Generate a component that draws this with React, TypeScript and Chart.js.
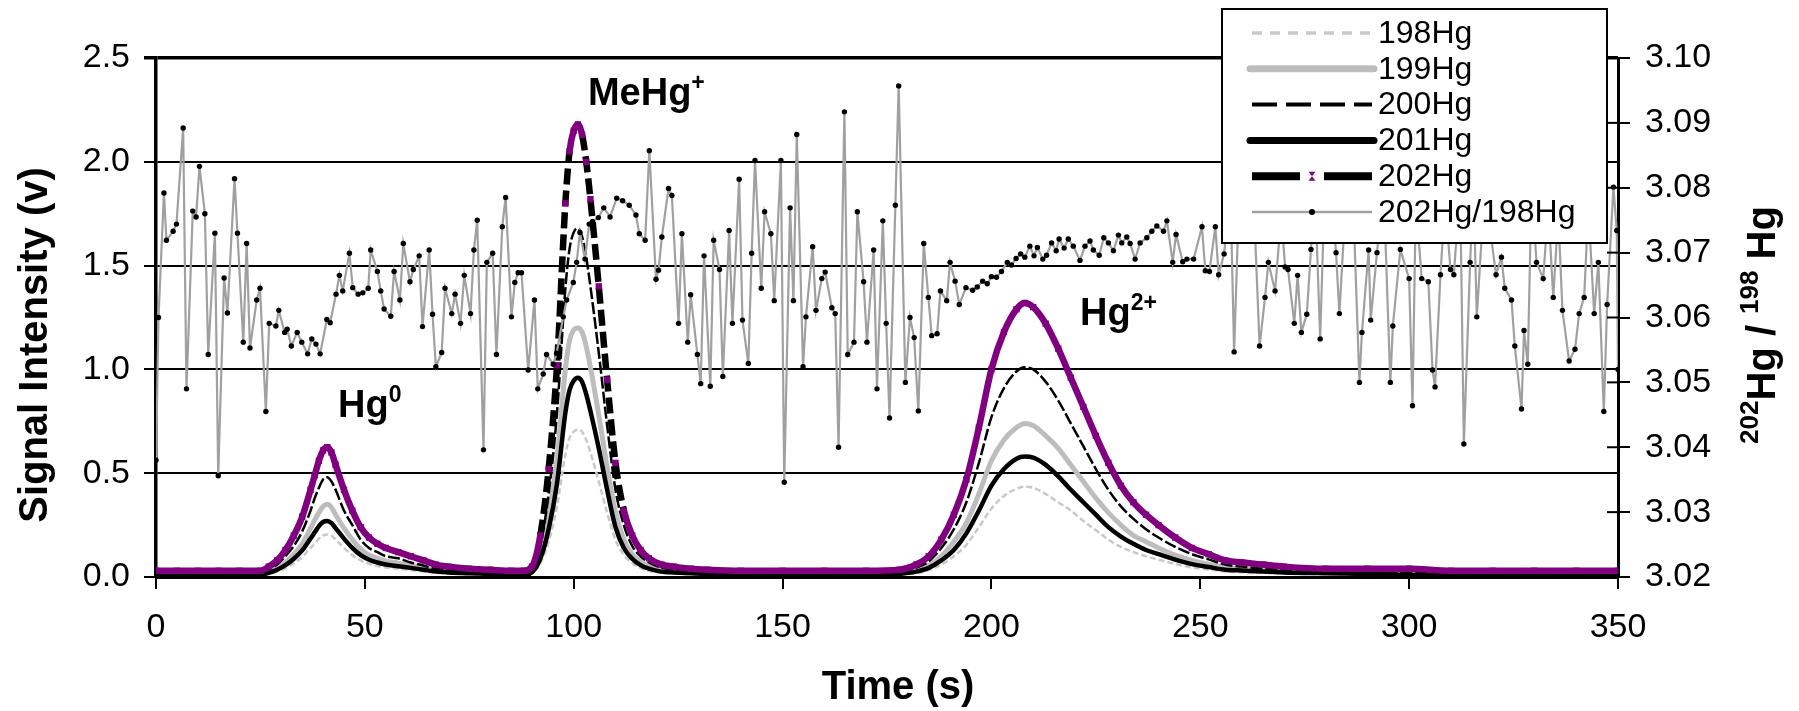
import React, { useEffect, useRef } from "react";
import { Chart, registerables } from "chart.js";

Chart.register(...registerables);

const FAMILY = "'Liberation Sans', Arial, Helvetica, sans-serif";
const PURPLE = "#800080";
const GRAY_198 = "#c9c9c9";
const GRAY_199 = "#bdbdbd";
const GRAY_RATIO = "#a0a0a0";

// Time axis samples (s) for the isotope traces
const timeS = [
  0, 5, 10, 15, 20, 25, 27, 29, 31, 33, 35, 37, 38, 39, 40, 41, 42, 43, 45, 47, 49, 51, 53, 55,
  58, 61, 64, 67, 70, 75, 80, 85, 88, 90, 92, 94, 96, 98, 99, 100, 101, 102, 103, 104, 106, 108,
  110, 112, 114, 116, 118, 121, 124, 128, 132, 140, 150, 160, 170, 178, 182, 185, 188, 191, 194,
  197, 200, 203, 206, 208, 210, 213, 216, 219, 222, 225, 228, 231, 234, 237, 240, 244, 248, 252,
  256, 260, 265, 270, 280, 290, 300, 310, 320, 330, 340, 350,
];

const hg202 = [
  0.03, 0.03, 0.03, 0.03, 0.03, 0.03,
  0.05, 0.08, 0.13, 0.2, 0.29, 0.42,
  0.49, 0.56, 0.61, 0.625, 0.6, 0.54,
  0.42, 0.32, 0.24, 0.19, 0.16, 0.14,
  0.12, 0.1, 0.08, 0.06, 0.05,
  0.04, 0.035, 0.03, 0.03,
  0.05, 0.2, 0.52, 1.02, 1.8,
  2.05, 2.15, 2.18, 2.13, 2.0, 1.82,
  1.4, 0.95, 0.55, 0.32, 0.2, 0.13, 0.09,
  0.06, 0.05, 0.04, 0.035,
  0.03, 0.03, 0.03, 0.03,
  0.035, 0.06, 0.1, 0.18, 0.3, 0.47, 0.72,
  1.0, 1.18, 1.29, 1.32, 1.3,
  1.22, 1.1, 0.96, 0.82, 0.68, 0.55, 0.44, 0.36, 0.3, 0.25,
  0.19, 0.14, 0.11, 0.08, 0.07, 0.06, 0.05,
  0.04, 0.04, 0.04, 0.03, 0.03, 0.03, 0.03, 0.03,
];

const hg200 = [
  0.02, 0.02, 0.02, 0.02, 0.02, 0.02,
  0.035, 0.06, 0.1, 0.15, 0.22, 0.32,
  0.38, 0.43, 0.47, 0.48, 0.46, 0.42,
  0.32, 0.25, 0.18, 0.14, 0.12, 0.1,
  0.09, 0.07, 0.055, 0.04, 0.035,
  0.03, 0.025, 0.02, 0.02,
  0.035, 0.15, 0.4, 0.79, 1.39,
  1.58, 1.66, 1.68, 1.64, 1.54, 1.4,
  1.08, 0.73, 0.42, 0.25, 0.15, 0.1, 0.07,
  0.045, 0.035, 0.03, 0.025,
  0.02, 0.02, 0.02, 0.02,
  0.025, 0.045, 0.075, 0.14, 0.23, 0.36, 0.55,
  0.77, 0.91, 0.99, 1.01, 1.0,
  0.94, 0.85, 0.74, 0.63, 0.52, 0.42, 0.34, 0.28, 0.23, 0.19,
  0.145, 0.11, 0.085, 0.06, 0.05, 0.04, 0.035,
  0.03, 0.025, 0.02, 0.02, 0.02, 0.02, 0.02, 0.02,
];

const hg199 = [
  0.015, 0.015, 0.015, 0.015, 0.015, 0.015,
  0.025, 0.045, 0.07, 0.11, 0.16, 0.235,
  0.275, 0.31, 0.34, 0.35, 0.335, 0.3,
  0.235, 0.18, 0.135, 0.105, 0.09, 0.078,
  0.067, 0.055, 0.045, 0.035, 0.028,
  0.022, 0.02, 0.015, 0.015,
  0.028, 0.11, 0.29, 0.57, 1.0,
  1.14, 1.19, 1.2, 1.18, 1.11, 1.01,
  0.78, 0.53, 0.31, 0.18, 0.11, 0.073, 0.05,
  0.034, 0.028, 0.022, 0.02,
  0.015, 0.015, 0.015, 0.015,
  0.02, 0.034, 0.056, 0.1, 0.17, 0.26, 0.4,
  0.56, 0.66, 0.72, 0.74, 0.73,
  0.68, 0.62, 0.54, 0.46, 0.38, 0.31, 0.25, 0.2, 0.17, 0.14,
  0.105, 0.08, 0.062, 0.045, 0.039, 0.034, 0.028,
  0.022, 0.02, 0.015, 0.015, 0.015, 0.015, 0.015, 0.015,
];

const hg201 = [
  0.01, 0.01, 0.01, 0.01, 0.01, 0.01,
  0.02, 0.035, 0.057, 0.088, 0.128, 0.185,
  0.215, 0.245, 0.265, 0.27, 0.26, 0.235,
  0.185, 0.14, 0.105, 0.083, 0.07, 0.06,
  0.052, 0.044, 0.035, 0.026, 0.022,
  0.018, 0.015, 0.01, 0.01,
  0.022, 0.088, 0.23, 0.45, 0.79,
  0.9, 0.945, 0.96, 0.94, 0.88, 0.8,
  0.62, 0.42, 0.24, 0.14, 0.088, 0.057, 0.04,
  0.026, 0.022, 0.018, 0.015,
  0.01, 0.01, 0.01, 0.01,
  0.015, 0.026, 0.044, 0.08, 0.13, 0.21, 0.32,
  0.44, 0.52, 0.57, 0.58, 0.575,
  0.54, 0.485, 0.42, 0.36, 0.3, 0.24, 0.195, 0.16, 0.13, 0.11,
  0.084, 0.062, 0.048, 0.035, 0.031, 0.026, 0.022,
  0.018, 0.015, 0.01, 0.01, 0.01, 0.01, 0.01, 0.01,
];

const hg198 = [
  0.01, 0.01, 0.01, 0.01, 0.01, 0.01,
  0.017, 0.027, 0.043, 0.066, 0.096, 0.14,
  0.16, 0.185, 0.2, 0.205, 0.2, 0.18,
  0.14, 0.105, 0.08, 0.063, 0.053, 0.046,
  0.04, 0.033, 0.027, 0.02, 0.017,
  0.013, 0.012, 0.01, 0.01,
  0.017, 0.066, 0.17, 0.34, 0.59,
  0.67, 0.7, 0.71, 0.7, 0.66, 0.6,
  0.46, 0.31, 0.18, 0.106, 0.066, 0.043, 0.03,
  0.02, 0.017, 0.013, 0.012,
  0.01, 0.01, 0.01, 0.01,
  0.012, 0.02, 0.033, 0.06, 0.1, 0.155, 0.24,
  0.33, 0.39, 0.425, 0.435, 0.43,
  0.4, 0.36, 0.32, 0.27, 0.225, 0.18, 0.145, 0.12, 0.1, 0.083,
  0.063, 0.046, 0.036, 0.027, 0.023, 0.02, 0.017,
  0.013, 0.012, 0.01, 0.01, 0.01, 0.01, 0.01, 0.01,
];

// 202Hg/198Hg ratio samples: [time (s), ratio]
const ratioSamples: [number, number][] = [
  [0, 3.038], [0.6, 3.06], [1.9, 3.0792], [2.5, 3.0719], [4.1, 3.0733], [4.9, 3.0744], [6.5, 3.0892],
  [7.3, 3.049], [8.8, 3.0764], [9.6, 3.0755], [10.4, 3.0833], [11.7, 3.076], [12.5, 3.0543], [14.1, 3.073],
  [14.9, 3.0356], [16.3, 3.0661], [17.1, 3.0607], [18.8, 3.0814], [19.5, 3.073], [20.9, 3.0562], [21.7, 3.0714],
  [22.5, 3.0553], [24.1, 3.0627], [24.9, 3.0645], [26.3, 3.0455], [27.1, 3.0591], [28.7, 3.0587], [29.4, 3.0611],
  [30.8, 3.0577], [31.4, 3.0582], [32.4, 3.0556], [33.8, 3.0577], [34.9, 3.0562], [36.3, 3.0544], [37.3, 3.0567],
  [38.3, 3.0559], [39.3, 3.0544], [40.9, 3.0597], [41.7, 3.0592], [43.1, 3.0636], [43.9, 3.0665], [44.7, 3.0641],
  [46.3, 3.0699], [47.1, 3.0646], [48.4, 3.0636], [49.5, 3.0638], [50.8, 3.0645], [51.4, 3.0704], [53.0, 3.0671],
  [53.8, 3.0641], [54.6, 3.0613], [56.2, 3.0602], [57.0, 3.0671], [58.4, 3.0627], [59.2, 3.0714], [60.8, 3.0655],
  [61.6, 3.0674], [63.0, 3.0695], [63.8, 3.0586], [65.4, 3.0704], [66.2, 3.0605], [67.0, 3.0524], [68.4, 3.0546],
  [69.2, 3.0645], [70.8, 3.0606], [71.6, 3.0636], [72.9, 3.0591], [73.8, 3.0665], [75.3, 3.0606], [76.1, 3.0704],
  [76.9, 3.075], [78.4, 3.0396], [79.2, 3.0685], [80.6, 3.0699], [81.5, 3.0543], [82.9, 3.074], [83.7, 3.0785],
  [85.1, 3.0601], [85.9, 3.0654], [86.7, 3.0669], [87.5, 3.0669], [89.1, 3.0519], [90.6, 3.0627], [91.4, 3.049],
  [92.7, 3.0513], [93.5, 3.0543], [95.1, 3.0528], [95.9, 3.0545], [97.5, 3.0601], [98.3, 3.0627], [99.9, 3.0654],
  [100.7, 3.0685], [101.5, 3.0731], [102.7, 3.069], [103.7, 3.0744], [104.5, 3.0748], [105.9, 3.0754], [107.2, 3.0769],
  [108.7, 3.0755], [110.3, 3.0784], [111.7, 3.078], [113.3, 3.0773], [114.9, 3.0758], [115.7, 3.0729], [117.1, 3.0719],
  [118.1, 3.0857], [119.7, 3.0659], [120.3, 3.0673], [121.1, 3.0724], [122.7, 3.0799], [123.5, 3.0788], [125.1, 3.0591],
  [125.9, 3.0729], [127.3, 3.0562], [128.0, 3.0635], [129.6, 3.0543], [130.4, 3.0498], [131.2, 3.0695], [132.7, 3.0494],
  [133.5, 3.0719], [134.9, 3.0674], [135.7, 3.0509], [137.2, 3.0734], [138.0, 3.0591], [139.6, 3.0813], [140.4, 3.0596],
  [141.8, 3.0529], [142.6, 3.0699], [143.4, 3.0842], [144.9, 3.0645], [145.7, 3.0763], [147.2, 3.0729], [148.0, 3.0626],
  [149.6, 3.0842], [150.4, 3.0346], [151.8, 3.0769], [152.6, 3.0626], [153.4, 3.0882], [154.9, 3.0524], [155.6, 3.0601],
  [157.2, 3.0709], [158.0, 3.0611], [159.4, 3.066], [160.2, 3.067], [161.8, 3.0615], [162.6, 3.0606], [163.4, 3.04],
  [164.8, 3.0917], [165.6, 3.0543], [167.1, 3.0562], [167.9, 3.0763], [169.4, 3.0655], [170.2, 3.0562], [171.8, 3.0704],
  [172.6, 3.049], [174.0, 3.0749], [174.8, 3.0591], [175.6, 3.0445], [177.0, 3.0773], [177.8, 3.0957], [179.4, 3.05],
  [180.5, 3.06], [181.5, 3.0569], [182.5, 3.0456], [183.8, 3.0714], [184.9, 3.0631], [185.7, 3.0572], [187.0, 3.0575],
  [187.8, 3.0641], [189.3, 3.0626], [190.1, 3.0685], [191.3, 3.0656], [192.3, 3.062], [193.9, 3.0646], [195.5, 3.0642],
  [196.6, 3.0647], [197.9, 3.0656], [199.0, 3.0652], [200.0, 3.0663], [201.2, 3.0662], [202.4, 3.0671], [203.8, 3.0685],
  [204.8, 3.0681], [205.9, 3.0691], [207.0, 3.0698], [208.0, 3.0693], [209.2, 3.071], [210.2, 3.0695], [211.0, 3.0708],
  [212.3, 3.069], [213.2, 3.0696], [214.4, 3.0715], [215.5, 3.0703], [216.2, 3.0721], [217.4, 3.0707], [218.4, 3.0721],
  [219.6, 3.071], [221.2, 3.0688], [222.4, 3.071], [223.6, 3.0718], [224.4, 3.0704], [225.8, 3.0696], [226.9, 3.0723],
  [228.0, 3.0715], [229.2, 3.0703], [230.4, 3.0727], [231.2, 3.0715], [232.4, 3.0724], [233.2, 3.0714], [234.4, 3.069],
  [235.6, 3.0715], [237.2, 3.0723], [238.4, 3.0733], [239.6, 3.0741], [241.2, 3.0733], [242.0, 3.0749], [243.4, 3.0685],
  [244.2, 3.0728], [245.8, 3.0686], [246.8, 3.069], [248.4, 3.069], [250.4, 3.074], [251.2, 3.0672], [252.2, 3.0671],
  [253.6, 3.074], [254.4, 3.0666], [255.7, 3.0698], [257.2, 3.08], [258.1, 3.0547], [259.3, 3.079], [260.8, 3.074],
  [262.6, 3.081], [264.2, 3.0556], [265.5, 3.0631], [266.3, 3.0685], [267.9, 3.0641], [269.4, 3.076], [270.3, 3.0678],
  [271.0, 3.0674], [272.5, 3.0591], [273.3, 3.0665], [274.2, 3.0577], [275.5, 3.0605], [276.5, 3.0705], [277.5, 3.079],
  [278.7, 3.0567], [279.7, 3.078], [281.1, 3.082], [282.5, 3.07], [283.3, 3.0606], [285.1, 3.081], [286.7, 3.076],
  [288.1, 3.05], [288.7, 3.0577], [290.3, 3.0704], [290.8, 3.0596], [292.3, 3.07], [293.9, 3.08], [295.5, 3.05],
  [296.1, 3.0587], [297.9, 3.0705], [300.0, 3.066], [300.8, 3.0464], [301.6, 3.078], [303.0, 3.066], [304.6, 3.0655],
  [305.6, 3.0519], [306.2, 3.0493], [307.5, 3.0666], [308.6, 3.078], [309.9, 3.0674], [310.7, 3.0666], [312.2, 3.08],
  [313.1, 3.0405], [314.6, 3.0685], [315.4, 3.08], [316.2, 3.0601], [317.8, 3.077], [319.3, 3.074], [320.8, 3.0666],
  [322.1, 3.0693], [322.9, 3.0645], [324.5, 3.0627], [325.3, 3.0556], [326.9, 3.0459], [327.5, 3.058], [328.4, 3.0528],
  [329.3, 3.08], [330.5, 3.0685], [332.1, 3.066], [333.3, 3.077], [334.5, 3.0631], [335.7, 3.076], [336.7, 3.0611],
  [338.3, 3.0533], [339.7, 3.0551], [340.7, 3.0606], [341.9, 3.0631], [342.9, 3.077], [344.3, 3.0606], [345.3, 3.0685],
  [346.6, 3.0455], [347.4, 3.062], [348.9, 3.0801], [349.7, 3.0734], [350, 3.052],
];

const xTickValues = [0, 50, 100, 150, 200, 250, 300, 350];
const leftTickValues = [0, 0.5, 1.0, 1.5, 2.0, 2.5];
const rightTickValues = [3.02, 3.03, 3.04, 3.05, 3.06, 3.07, 3.08, 3.09, 3.1];

const legendLabels = ["198Hg", "199Hg", "200Hg", "201Hg", "202Hg", "202Hg/198Hg"];

const peakLabels = [
  { base: "Hg", sup: "0", t: 43.6, v: 0.77 },
  { base: "MeHg", sup: "+", t: 103.4, v: 2.276 },
  { base: "Hg", sup: "2+", t: 221.2, v: 1.214 },
];

const yTitle = "Signal Intensity (v)";
const xTitle = "Time (s)";

const series = (vals: number[]) => timeS.map((t, i) => ({ x: t, y: vals[i] }));

const isSteep = (c: any) => {
  const dx = Math.abs(c.p1.x - c.p0.x) || 0.001;
  return Math.abs(c.p1.y - c.p0.y) / dx > 5.2;
};

function drawSup(ctx: CanvasRenderingContext2D, parts: { t: string; sup?: boolean }[], x: number, y: number, size: number, supSize: number, raise: number, align: "left" | "center") {
  const widths = parts.map((p) => {
    ctx.font = `bold ${p.sup ? supSize : size}px ${FAMILY}`;
    return ctx.measureText(p.t).width;
  });
  const total = widths.reduce((a, b) => a + b, 0);
  let cx = align === "center" ? x - total / 2 : x;
  ctx.textAlign = "left";
  ctx.textBaseline = "alphabetic";
  parts.forEach((p, i) => {
    ctx.font = `bold ${p.sup ? supSize : size}px ${FAMILY}`;
    ctx.fillText(p.t, cx, p.sup ? y - raise : y);
    cx += widths[i];
  });
}

const overlayPlugin = {
  id: "overlay",
  afterDatasetsDraw(chart: any) {
    const ctx: CanvasRenderingContext2D = chart.ctx;
    const xs = chart.scales.x;
    const ys = chart.scales.y;
    const y1 = chart.scales.y1;
    ctx.save();
    ctx.fillStyle = "#000";

    // inner tick marks on the right axis
    ctx.strokeStyle = "#000";
    ctx.lineWidth = 2;
    rightTickValues.forEach((v) => {
      const py = y1.getPixelForValue(v);
      ctx.beginPath();
      ctx.moveTo(y1.left - 11, py);
      ctx.lineTo(y1.left, py);
      ctx.stroke();
    });

    // peak annotations
    peakLabels.forEach((p) => {
      drawSup(ctx, [{ t: p.base }, { t: p.sup, sup: true }], xs.getPixelForValue(p.t), ys.getPixelForValue(p.v), 38, 23, 15, "left");
    });

    // axis titles
    ctx.save();
    ctx.translate(47, 345);
    ctx.rotate(-Math.PI / 2);
    ctx.font = `bold 40px ${FAMILY}`;
    ctx.textAlign = "center";
    ctx.textBaseline = "alphabetic";
    ctx.fillText(yTitle, 0, 0);
    ctx.restore();

    ctx.font = `bold 40px ${FAMILY}`;
    ctx.textAlign = "center";
    ctx.textBaseline = "alphabetic";
    ctx.fillText(xTitle, 898, 699);

    ctx.save();
    ctx.translate(1775, 325);
    ctx.rotate(-Math.PI / 2);
    drawSup(ctx, [{ t: "202", sup: true }, { t: "Hg / " }, { t: "198", sup: true }, { t: " Hg" }], 0, 0, 40, 26, 17, "center");
    ctx.restore();

    // legend
    const L = 1222, T = 9, W = 385, H = 234;
    ctx.fillStyle = "#fff";
    ctx.fillRect(L, T, W, H);
    ctx.strokeStyle = "#000";
    ctx.lineWidth = 2;
    ctx.strokeRect(L, T, W, H);
    const x1 = 1252, x2 = 1372, xm = 1312;
    const rowY = (i: number) => 33 + i * 35.8;
    const seg = (y: number, color: string, width: number, dash: number[], cap: CanvasLineCap, a = x1, b = x2) => {
      ctx.beginPath();
      ctx.strokeStyle = color;
      ctx.lineWidth = width;
      ctx.setLineDash(dash);
      ctx.lineCap = cap;
      ctx.moveTo(a, y);
      ctx.lineTo(b, y);
      ctx.stroke();
      ctx.setLineDash([]);
      ctx.lineCap = "butt";
    };
    seg(rowY(0), GRAY_198, 3.5, [10, 8], "butt");
    seg(rowY(1), GRAY_199, 7, [], "round", x1 - 2, x2 + 2);
    seg(rowY(2), "#000", 4, [25, 9], "butt");
    seg(rowY(3), "#000", 7, [], "round", x1 - 2, x2 + 2);
    seg(rowY(4), "#000", 8, [], "butt", x1, 1300);
    seg(rowY(4), "#000", 8, [], "butt", 1324, x2);
    ctx.fillStyle = PURPLE;
    const my = rowY(4);
    ctx.beginPath();
    ctx.moveTo(xm - 3.5, my - 4.5);
    ctx.lineTo(xm + 3.5, my - 4.5);
    ctx.lineTo(xm, my);
    ctx.closePath();
    ctx.moveTo(xm - 3.5, my + 4.5);
    ctx.lineTo(xm + 3.5, my + 4.5);
    ctx.lineTo(xm, my);
    ctx.closePath();
    ctx.fill();
    seg(rowY(5), GRAY_RATIO, 2.5, [], "butt");
    ctx.fillStyle = "#000";
    ctx.beginPath();
    ctx.arc(xm, rowY(5), 3, 0, Math.PI * 2);
    ctx.fill();

    ctx.font = `32px ${FAMILY}`;
    ctx.textAlign = "left";
    ctx.textBaseline = "middle";
    legendLabels.forEach((lab, i) => ctx.fillText(lab, 1378, rowY(i) + 1));
    ctx.restore();
  },
};

export default function App() {
  const ref = useRef<HTMLCanvasElement | null>(null);

  useEffect(() => {
    const canvas = ref.current;
    if (!canvas) return;
    const tickFont = { family: FAMILY, size: 34 };
    const chart = new Chart(canvas, {
      type: "line",
      data: {
        datasets: [
          {
            label: "198Hg",
            data: series(hg198),
            borderColor: GRAY_198,
            borderWidth: 2.5,
            borderDash: [6, 3],
            pointRadius: 0,
            cubicInterpolationMode: "monotone",
            yAxisID: "y",
            order: 6,
          },
          {
            label: "199Hg",
            data: series(hg199),
            borderColor: GRAY_199,
            borderWidth: 5,
            pointRadius: 0,
            cubicInterpolationMode: "monotone",
            yAxisID: "y",
            order: 5,
          },
          {
            label: "200Hg",
            data: series(hg200),
            borderColor: "#000",
            borderWidth: 2.5,
            borderDash: [12, 3],
            pointRadius: 0,
            cubicInterpolationMode: "monotone",
            yAxisID: "y",
            order: 4,
          },
          {
            label: "201Hg",
            data: series(hg201),
            borderColor: "#000",
            borderWidth: 4.5,
            pointRadius: 0,
            cubicInterpolationMode: "monotone",
            yAxisID: "y",
            order: 3,
          },
          {
            label: "202Hg",
            data: series(hg202),
            borderColor: PURPLE,
            borderWidth: 6.5,
            pointStyle: "rect",
            pointRadius: 4.5,
            pointBackgroundColor: PURPLE,
            pointBorderWidth: 0,
            cubicInterpolationMode: "monotone",
            segment: {
              borderColor: (c: any) => (isSteep(c) ? "#000" : PURPLE),
              borderDash: (c: any) => (isSteep(c) ? [16, 6] : []),
            },
            yAxisID: "y",
            order: 2,
          },
          {
            label: "202Hg/198Hg",
            data: ratioSamples.map(([t, r]) => ({ x: t, y: r })),
            borderColor: GRAY_RATIO,
            borderWidth: 2.2,
            pointRadius: 2.7,
            pointBackgroundColor: "#000",
            pointBorderWidth: 0,
            tension: 0,
            yAxisID: "y1",
            order: 1,
          },
        ],
      },
      options: {
        responsive: false,
        animation: false,
        devicePixelRatio: 1,
        events: [],
        layout: { padding: { top: 58, left: 0, right: 0, bottom: 0 } },
        plugins: { legend: { display: false }, tooltip: { enabled: false }, title: { display: false } },
        scales: {
          x: {
            type: "linear",
            min: 0,
            max: 350,
            afterBuildTicks: (s: any) => {
              s.ticks = xTickValues.map((v) => ({ value: v }));
            },
            afterFit: (s: any) => {
              s.height = 134;
            },
            grid: { drawOnChartArea: false, drawTicks: true, tickLength: 12, color: "#000", lineWidth: 2 },
            border: { display: true, color: "#000", width: 3 },
            ticks: { font: tickFont, color: "#000", padding: 18, maxRotation: 0, autoSkip: false, callback: (v: any) => String(v) },
          },
          y: {
            type: "linear",
            position: "left",
            min: 0,
            max: 2.5,
            afterBuildTicks: (s: any) => {
              s.ticks = leftTickValues.map((v) => ({ value: v }));
            },
            afterFit: (s: any) => {
              s.width = 156;
            },
            grid: {
              color: "#000",
              lineWidth: (c: any) => (c.tick && c.tick.value === 2.5 ? 3.5 : 2),
              drawTicks: true,
              tickLength: 12,
            },
            border: { display: true, color: "#000", width: 3.5 },
            ticks: { font: tickFont, color: "#000", padding: 14, callback: (v: any) => Number(v).toFixed(1) },
          },
          y1: {
            type: "linear",
            position: "right",
            min: 3.02,
            max: 3.1,
            afterBuildTicks: (s: any) => {
              s.ticks = rightTickValues.map((v) => ({ value: v }));
            },
            afterFit: (s: any) => {
              s.width = 181;
            },
            grid: { drawOnChartArea: false, drawTicks: true, tickLength: 12, color: "#000", lineWidth: 2 },
            border: { display: true, color: "#000", width: 3 },
            ticks: { font: tickFont, color: "#000", padding: 15, callback: (v: any) => Number(v).toFixed(2) },
          },
        },
      },
      plugins: [overlayPlugin],
    } as any);
    return () => chart.destroy();
  }, []);

  return (
    <canvas
      ref={ref}
      width={1799}
      height={711}
      style={{ position: "absolute", left: 0, top: 0, width: 1799, height: 711 }}
    />
  );
}
